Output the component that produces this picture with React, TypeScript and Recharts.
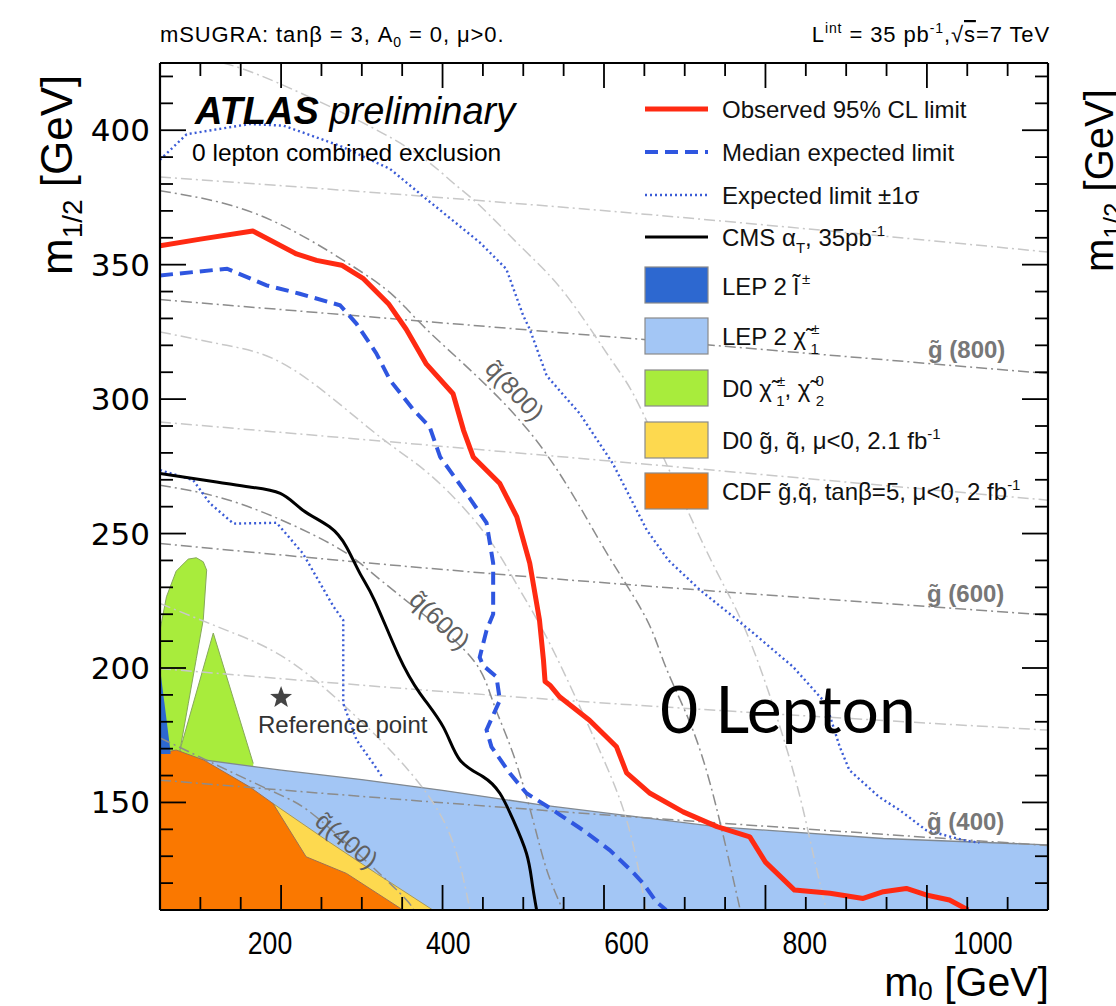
import React from 'react';
import { ComposedChart, XAxis, YAxis, Line, Area, Scatter, Legend } from 'recharts';

type Pt = [number, number];
type Band = [number, number, number];

// limit contours, [m0, m1/2] in GeV
const observedLimit: Pt[] = [
  [50, 357], [100, 359.5], [165, 362.5], [219, 354], [244, 351.6], [275, 349.8], [302, 344.8],
  [333, 335.5], [355, 326], [380, 313], [413, 302], [426, 288.4], [438, 278.5], [471, 268.6],
  [492, 256.2], [508, 239], [520, 218], [525, 203], [527, 195], [533, 193.6], [545, 189.3],
  [582, 180.6], [615.5, 170.7], [628, 161], [657, 153.4], [698, 146.5], [740, 141], [780.6, 137.2],
  [800, 127.8], [836, 117.4], [880, 116.2], [921, 114.3], [946, 116.8], [974.5, 118], [999, 115.6],
  [1028, 113.7], [1051, 110],
];
const medianExpected: Pt[] = [
  [50, 346], [133, 348.5], [182, 342.3], [223, 339.2], [273, 334.9], [293.5, 328], [318, 317],
  [335, 307], [364, 296], [384, 289.7], [397, 278.5], [434, 263], [454.5, 254], [462.7, 239],
  [462.7, 220], [454.5, 214], [446, 204], [450, 201], [466.8, 196.7], [471, 188], [454.5, 177],
  [460.6, 170.7], [483.4, 160.8], [504, 153.4], [530, 148.5], [545, 145.5], [574, 139.7],
  [607, 132.3], [636, 124], [648.5, 119.9], [665, 113], [677, 110],
];
const expectedPlus: Pt[] = [
  [50, 389], [83, 398.5], [161, 402.3], [203, 401.7], [273, 394.2], [335, 385.6], [380, 374.4],
  [446, 358.3], [479, 348.4], [500, 331], [508, 326], [529, 308.7], [570, 294.6], [611, 276],
  [653, 251.3], [680, 240], [719, 229], [781, 214], [834, 200.5], [875, 186.8], [892, 170.7],
  [904, 162], [941, 152], [966, 147.2], [999, 139.7], [1045, 136], [1065, 135],
];
const expectedMinus: Pt[] = [
  [50, 273.6], [91, 269.9], [112, 261.2], [141, 253.7], [194.5, 254], [227, 242.6], [265, 222.8],
  [277, 217.8], [277, 203], [277, 186.8], [293.5, 173.2], [314, 164.5], [326.5, 159],
];
const cmsAlphaT: Pt[] = [
  [50, 272.3], [120, 269.2], [161, 267.3], [199, 264.9], [227, 258.7], [260, 252.5], [281, 245],
  [298, 235], [316, 225], [345, 205], [372, 190.6], [401, 178], [421.5, 165.8], [450, 159.6],
  [471, 153.4], [487.5, 143.5], [504, 131], [511, 120], [516.5, 110],
];

// excluded regions from earlier experiments
const lepChargino: Pt[] = [
  [50, 168], [104, 165.8], [200, 162], [300, 158.5], [400, 154.5], [524, 149], [739, 141],
  [946, 136.6], [1150, 134.2],
];
const cdfSquarkGluino: Pt[] = [
  [50, 168.2], [70, 169.5], [104, 165.8], [161, 155.8], [190, 149.6], [231, 129.8], [281, 123.6],
  [351, 110],
];
const d0SquarkGluino: Pt[] = [[50, 150], [190, 149.6], [256, 136], [318, 123.6], [388, 110]];
const d0ChiLeft: Band[] = [
  [50, 150, 214], [58, 150, 226.5], [70, 150, 236], [74.8, 169.5, 237.5], [85, 186.7, 240.5],
  [95, 203.5, 241], [103.6, 218, 239.5], [107.8, 236.4, 236.4],
];
const d0ChiRight: Band[] = [[74.8, 169.5, 169.5], [116, 150, 213], [165.5, 150, 164.5]];
const lepSlepton: Band[] = [[50, 168, 200], [63, 168, 169]];

// iso-mass contours
const gluino900: Pt[] = [[50, 382.6], [595, 370.2], [1150, 354.7]];
const gluino800: Pt[] = [[50, 337], [595, 323.5], [1150, 309.5]];
const gluino700: Pt[] = [[50, 291.5], [595, 277.3], [1150, 262.4]];
const gluino600: Pt[] = [[50, 246.3], [533, 233.3], [1150, 219.7]];
const gluino500: Pt[] = [[50, 199.8], [550, 188], [1150, 176.9]];
const gluino400: Pt[] = [[50, 158.3], [550, 146.5], [1150, 134]];
const squark1000: Pt[] = [
  [128, 425], [194.5, 417.8], [339, 396.7], [409, 381.5], [446, 372], [500, 355.8], [553.6, 338.5],
  [611, 313.7], [648.5, 294.6], [718.6, 248.8], [760, 224], [793, 200.4], [834, 162], [859, 131],
  [875.5, 110],
];
const squark800: Pt[] = [
  [50, 377.5], [170, 368.8], [281, 350.9], [339, 338.5], [380, 326], [446, 307.5], [516, 284.7],
  [570, 260], [611, 239], [653, 218], [677, 200], [710, 177], [739, 148.4], [768, 111],
];
const squark700: Pt[] = [
  [50, 325], [132.6, 320], [215, 311], [318, 287], [384, 272], [450, 251], [492, 231], [533, 209],
  [587, 174.4], [628, 143.5], [652, 110],
];
const squark600: Pt[] = [
  [50, 268], [150, 261], [260.5, 246.3], [314, 235], [376, 220], [438, 203], [463, 187],
  [487.5, 168], [512, 143.5], [529, 125], [549, 110],
];
const squark500: Pt[] = [
  [50, 224], [132.6, 214], [215, 201.7], [297.6, 180.6], [339, 168.2], [400.8, 143.5], [434, 110],
];
const squark400: Pt[] = [[50, 174], [186, 154.6], [248, 143.5], [339, 118.7], [364, 110]];

const referencePoint: Pt[] = [[200, 189]];

const X_MIN = 50;
const X_MAX = 1150;
const Y_MIN = 110;
const Y_MAX = 425;
const xTicks = [100, 150, 200, 250, 300, 350, 400, 450, 500, 550, 600, 650, 700, 750, 800, 850, 900, 950, 1000, 1050, 1100];
const xMajor = [200, 400, 600, 800, 1000];
// the tick labels of the slide sit on their own, slightly wider scale
const xLabelDomain = [76.6, 1072.9];
const yTicks = [120, 130, 140, 150, 160, 170, 180, 190, 200, 210, 220, 230, 240, 250, 260, 270, 280, 290, 300, 310, 320, 330, 340, 350, 360, 370, 380, 390, 400, 410, 420];
const yMajor = [150, 200, 250, 300, 350, 400];

const W = 1116;
const H = 1006;
const MARGIN = { top: 62, right: 67, bottom: 36, left: 60 };
// plot box that follows from the margins and axis sizes below
const PLOT = { left: 160, right: 1048, top: 63, bottom: 910 };

const SANS = '"Liberation Sans", Arial, Helvetica, sans-serif';
const RED = '#ff2a12';
const BLUE = '#2f56e0';
const DOT_BLUE = '#3a5bd6';
const LEP_DARK = '#2d68d0';
const LEP_LIGHT = '#a3c6f5';
const GREEN = '#a8ec3c';
const YELLOW = '#fdd94f';
const ORANGE = '#fa7800';
const GREY_DARK = '#8c8c8c';
const GREY_LIGHT = '#c8c8c8';
const DASHDOT = '11 4 2 4';

const xy = (pts: Pt[]) => pts.map(([x, y]) => ({ x, y }));
const band = (pts: Band[]) => pts.map(([x, lo, hi]) => ({ x, band: [lo, hi] }));

const contours: { pts: Pt[]; dark: boolean }[] = [
  { pts: gluino900, dark: false },
  { pts: gluino800, dark: true },
  { pts: gluino700, dark: false },
  { pts: gluino600, dark: true },
  { pts: gluino500, dark: false },
  { pts: gluino400, dark: true },
  { pts: squark1000, dark: false },
  { pts: squark800, dark: true },
  { pts: squark700, dark: false },
  { pts: squark600, dark: true },
  { pts: squark500, dark: false },
  { pts: squark400, dark: true },
];

// frame tick positions (same linear mapping as the chart's axes)
const tickX = (v: number) => PLOT.left + ((v - X_MIN) / (X_MAX - X_MIN)) * (PLOT.right - PLOT.left);
const tickY = (v: number) => PLOT.bottom - ((v - Y_MIN) / (Y_MAX - Y_MIN)) * (PLOT.bottom - PLOT.top);

function BottomLabel(props: any) {
  const { x, y, payload } = props;
  return (
    <text transform={`translate(${x},${y + 43}) scale(0.86,1)`} textAnchor="middle" fontFamily={SANS} fontSize={31} fill="#000">
      {payload.value}
    </text>
  );
}

function LeftLabel(props: any) {
  const { x, y, payload } = props;
  return (
    <text x={x - 10} y={y + 11} textAnchor="end" fontFamily='"DejaVu Sans", sans-serif' fontSize={31} fill="#000">
      {payload.value}
    </text>
  );
}

function StarShape(props: any) {
  const { cx, cy } = props;
  const pts: string[] = [];
  for (let i = 0; i < 10; i++) {
    const r = i % 2 === 0 ? 11.5 : 4.8;
    const a = -Math.PI / 2 + (i * Math.PI) / 5;
    pts.push(`${cx + r * Math.cos(a)},${cy + r * Math.sin(a)}`);
  }
  return <polygon points={pts.join(' ')} fill="#444" />;
}

function LegendBox() {
  const tx = 82;
  const t = { fontFamily: SANS, fontSize: 24, fill: '#111' };
  const s = 15;
  const box = (top: number, fill: string) => (
    <rect x={5} y={top} width={63} height={36} fill={fill} stroke="#8a8a8a" strokeWidth={1.2} />
  );
  return (
    <svg width={430} height={450} style={{ overflow: 'visible' }}>
      <line x1={5} x2={68} y1={24} y2={24} stroke={RED} strokeWidth={5} />
      <text x={tx} y={32.5} {...t}>Observed 95% CL limit</text>
      <line x1={5} x2={68} y1={67} y2={67} stroke={BLUE} strokeWidth={4} strokeDasharray="13 7" />
      <text x={tx} y={75.5} {...t}>Median expected limit</text>
      <line x1={5} x2={68} y1={110} y2={110} stroke={DOT_BLUE} strokeWidth={2.4} strokeDasharray="2 3" />
      <text x={tx} y={118.5} {...t}>Expected limit ±1σ</text>
      <line x1={5} x2={68} y1={152} y2={152} stroke="#000" strokeWidth={3} />
      <text x={tx} y={160.5} {...t}>
        CMS α<tspan dy={7} fontSize={s}>T</tspan>
        <tspan dy={-7}>, 35pb</tspan>
        <tspan dy={-10} fontSize={s}>-1</tspan>
      </text>
      {box(182, LEP_DARK)}
      <text x={tx} y={210} {...t}>
        LEP 2 l̃<tspan dx={3} dy={-11} fontSize={s}>±</tspan>
      </text>
      {box(233, LEP_LIGHT)}
      <text x={tx} y={260} {...t}>
        LEP 2 χ̃<tspan dx={5} dy={-11} fontSize={s}>±</tspan>
        <tspan dx={-9} dy={20} fontSize={s}>1</tspan>
      </text>
      {box(285, GREEN)}
      <text x={tx} y={312} {...t}>
        D0 χ̃<tspan dx={5} dy={-11} fontSize={s}>±</tspan>
        <tspan dx={-9} dy={20} fontSize={s}>1</tspan>
        <tspan dy={-9}>, χ̃</tspan>
        <tspan dx={5} dy={-11} fontSize={s}>0</tspan>
        <tspan dx={-8} dy={20} fontSize={s}>2</tspan>
      </text>
      {box(337, YELLOW)}
      <text x={tx} y={364} {...t}>
        D0 g̃, q̃, μ&lt;0, 2.1 fb<tspan dy={-10} fontSize={s}>-1</tspan>
      </text>
      {box(388, ORANGE)}
      <text x={tx} y={415} {...t}>
        CDF g̃,q̃, tanβ=5, μ&lt;0, 2 fb<tspan dy={-10} fontSize={s}>-1</tspan>
      </text>
    </svg>
  );
}

export default function App() {
  const frame = { stroke: '#000', strokeWidth: 2.2 };
  return (
    <div style={{ position: 'absolute', left: 0, top: 0, width: W, height: H, background: '#fff' }}>
      <ComposedChart width={W} height={H} margin={MARGIN}>
        <XAxis dataKey="x" type="number" domain={[X_MIN, X_MAX]} allowDataOverflow ticks={xMajor}
          tick={false} tickLine={false} height={1} axisLine={frame} />
        <XAxis xAxisId="labels" dataKey="x" type="number" domain={xLabelDomain} allowDataOverflow ticks={xMajor} interval={0}
          tick={BottomLabel} tickLine={false} tickSize={0} tickMargin={0} height={59} axisLine={false} />
        <XAxis xAxisId="top" orientation="top" dataKey="x" type="number" domain={[X_MIN, X_MAX]} allowDataOverflow
          ticks={xMajor} tick={false} tickLine={false} height={1} axisLine={frame} />
        <YAxis type="number" domain={[Y_MIN, Y_MAX]} allowDataOverflow ticks={yMajor} interval={0}
          tick={LeftLabel} tickLine={false} tickSize={0} tickMargin={0} width={100} axisLine={frame} />
        <YAxis yAxisId="right" orientation="right" type="number" domain={[Y_MIN, Y_MAX]} allowDataOverflow
          ticks={yMajor} tick={false} tickLine={false} width={1} axisLine={frame} />

        <Area data={band(d0ChiLeft)} dataKey="band" type="linear" fill={GREEN} fillOpacity={1} stroke="#86a85a" strokeWidth={1} isAnimationActive={false} activeDot={false} />
        <Area data={band(d0ChiRight)} dataKey="band" type="linear" fill={GREEN} fillOpacity={1} stroke="#86a85a" strokeWidth={1} isAnimationActive={false} activeDot={false} />
        <Area data={xy(lepChargino)} dataKey="y" type="linear" baseValue={110} fill={LEP_LIGHT} fillOpacity={1} stroke="#808890" strokeWidth={1.3} isAnimationActive={false} activeDot={false} />
        <Area data={xy(d0SquarkGluino)} dataKey="y" type="linear" baseValue={110} fill={YELLOW} fillOpacity={1} stroke="#a89858" strokeWidth={1} isAnimationActive={false} activeDot={false} />
        <Area data={xy(cdfSquarkGluino)} dataKey="y" type="linear" baseValue={110} fill={ORANGE} fillOpacity={1} stroke="#a07050" strokeWidth={1} isAnimationActive={false} activeDot={false} />
        <Area data={band(lepSlepton)} dataKey="band" type="linear" fill={LEP_DARK} fillOpacity={1} stroke="none" isAnimationActive={false} activeDot={false} />

        {contours.map((c, i) => (
          <Line key={`c${i}`} data={xy(c.pts)} dataKey="y" type="natural" stroke={c.dark ? GREY_DARK : GREY_LIGHT}
            strokeWidth={1.5} strokeDasharray={DASHDOT} dot={false} activeDot={false} isAnimationActive={false} />
        ))}

        <Line data={xy(expectedPlus)} dataKey="y" type="linear" stroke={DOT_BLUE} strokeWidth={2.4} strokeDasharray="2 3" dot={false} activeDot={false} isAnimationActive={false} />
        <Line data={xy(expectedMinus)} dataKey="y" type="linear" stroke={DOT_BLUE} strokeWidth={2.4} strokeDasharray="2 3" dot={false} activeDot={false} isAnimationActive={false} />
        <Line data={xy(medianExpected)} dataKey="y" type="linear" stroke={BLUE} strokeWidth={4} strokeDasharray="13 7" dot={false} activeDot={false} isAnimationActive={false} />
        <Line data={xy(cmsAlphaT)} dataKey="y" type="natural" stroke="#000" strokeWidth={3} dot={false} activeDot={false} isAnimationActive={false} />
        <Line data={xy(observedLimit)} dataKey="y" type="linear" stroke={RED} strokeWidth={5} strokeLinejoin="round" dot={false} activeDot={false} isAnimationActive={false} />

        <Scatter data={xy(referencePoint)} dataKey="y" shape={StarShape} isAnimationActive={false} />

        <Legend verticalAlign="middle" align="center" layout="horizontal" content={() => <LegendBox />}
          wrapperStyle={{ left: 640, top: 85, width: 430, height: 450 }} />
      </ComposedChart>

      <svg width={W} height={H} style={{ position: 'absolute', left: 0, top: 0, pointerEvents: 'none' }}>
        <g stroke="#000" strokeWidth={1.8}>
          {xTicks.map((v) => {
            const x = tickX(v);
            const len = xMajor.includes(v) ? 25 : 13;
            return (
              <g key={`x${v}`}>
                <line x1={x} x2={x} y1={PLOT.bottom} y2={PLOT.bottom - len} />
                <line x1={x} x2={x} y1={PLOT.top} y2={PLOT.top + len} />
              </g>
            );
          })}
          {yTicks.map((v) => {
            const y = tickY(v);
            const len = yMajor.includes(v) ? 26 : 13;
            return (
              <g key={`y${v}`}>
                <line x1={PLOT.left} x2={PLOT.left + len} y1={y} y2={y} />
                <line x1={PLOT.right} x2={PLOT.right - len} y1={y} y2={y} />
              </g>
            );
          })}
        </g>

        <g fontFamily={SANS} fill="#000">
          <text x={160} y={42} fontSize={22} letterSpacing={0.9}>
            mSUGRA: tanβ = 3, A<tspan dy={5} fontSize={14}>0</tspan>
            <tspan dy={-5}> = 0, μ&gt;0.</tspan>
          </text>
          <text x={1050} y={42} fontSize={22} letterSpacing={0.9} textAnchor="end">
            L<tspan dy={-9} fontSize={14}>int</tspan>
            <tspan dy={9}> = 35 pb</tspan>
            <tspan dy={-9} fontSize={14}>-1</tspan>
            <tspan dy={9}>,√</tspan>
            <tspan style={{ textDecoration: 'overline' }}>s</tspan>
            <tspan>=7 TeV</tspan>
          </text>

          <text x={195} y={124} fontSize={38} fontStyle="italic">
            <tspan fontWeight="bold">ATLAS</tspan> preliminary
          </text>
          <text x={192} y={161} fontSize={24.5}>0 lepton combined exclusion</text>

          <text transform="translate(72,275) rotate(-90)" fontSize={44}>
            m<tspan dy={10} fontSize={28}>1/2</tspan>
            <tspan dy={-10}> [GeV]</tspan>
          </text>
          <text x={1049} y={996} fontSize={41} textAnchor="end">
            m<tspan dy={4} fontSize={26}>0</tspan>
            <tspan dy={-4}> [GeV]</tspan>
          </text>
          <text transform="translate(1113,272) rotate(-90)" fontSize={40}>
            m<tspan dy={9} fontSize={26}>1/2</tspan>
            <tspan dy={-9}> [GeV]</tspan>
          </text>

          <g fill="#777" fontWeight="bold" fontSize={24}>
            <text x={928} y={358}>g̃ (800)</text>
            <text x={927} y={602}>g̃ (600)</text>
            <text x={927} y={830}>g̃ (400)</text>
          </g>
          <g fill="#606060" fontSize={25}>
            <text transform="translate(515,390) rotate(47)" textAnchor="middle" dominantBaseline="central">q̃(800)</text>
            <text transform="translate(440,620) rotate(44)" textAnchor="middle" dominantBaseline="central">q̃(600)</text>
            <text transform="translate(347,840) rotate(40)" textAnchor="middle" dominantBaseline="central">q̃(400)</text>
          </g>

          <text x={258} y={733} fontSize={24} fill="#333">Reference point</text>
          <text x={660} y={733} fontSize={66} fontFamily="Lato, sans-serif">0 Lepton</text>
        </g>
      </svg>
    </div>
  );
}
